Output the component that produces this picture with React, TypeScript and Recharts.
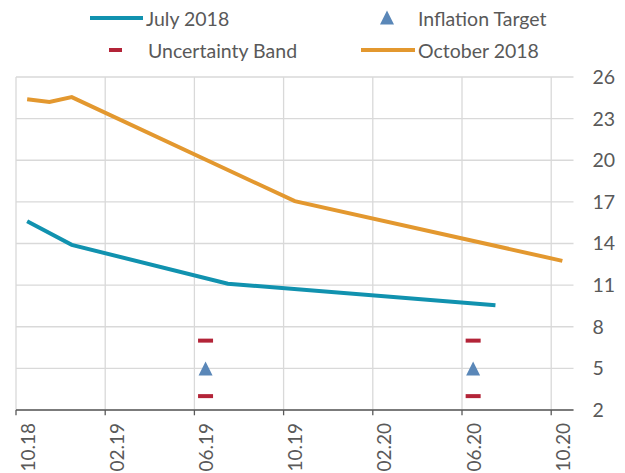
import React from 'react';
import { ComposedChart, Line, Scatter, XAxis, YAxis, CartesianGrid, ReferenceLine } from 'recharts';

const monthLabels = [
  '10.18', '11.18', '12.18', '01.19', '02.19', '03.19', '04.19', '05.19', '06.19',
  '07.19', '08.19', '09.19', '10.19', '11.19', '12.19', '01.20', '02.20', '03.20',
  '04.20', '05.20', '06.20', '07.20', '08.20', '09.20', '10.20',
];

// only the visible vertices are given, the rest is bridged with connectNulls
const july2018 = [
  15.6, null, 13.9, null, null, null, null, null, null, 11.1, null, null, null,
  null, null, null, null, null, null, null, null, 9.55, null, null, null,
];
const october2018 = [
  24.4, 24.2, 24.55, null, null, null, null, null, null, null, null, null, 17.05,
  null, null, null, null, null, null, null, null, null, null, null, 12.75,
];

const targetMonths = ['06.19', '06.20'];
const inflationTarget = [5, 5];
const bandUpper = [7, 7];
const bandLower = [3, 3];

const yTicks = [2, 5, 8, 11, 14, 17, 20, 23, 26];
const labelTicks = [0, 4, 8, 12, 16, 20, 24];
const gridBoundaries = [-0.5, 3.5, 7.5, 11.5, 15.5, 19.5, 23.5];

const chartData = monthLabels.map((m, i) => ({ i, month: m, july: july2018[i], october: october2018[i] }));
const targetData = targetMonths.map((m, k) => ({ i: monthLabels.indexOf(m), y: inflationTarget[k] }));
const upperData = targetMonths.map((m, k) => ({ i: monthLabels.indexOf(m), y: bandUpper[k] }));
const lowerData = targetMonths.map((m, k) => ({ i: monthLabels.indexOf(m), y: bandLower[k] }));

const BLUE = '#1192af';
const ORANGE = '#e3982f';
const RED = '#b32438';
const STEEL = '#5a87b8';
const TEXT = '#595959';
const GRID = '#d9d9d9';
const FONT = 'Lato, "Open Sans", sans-serif';
const FS = 19.5;

const Triangle = (props: any) => {
  const { cx, cy } = props;
  return <polygon points={`${cx},${cy - 7} ${cx + 7},${cy + 7} ${cx - 7},${cy + 7}`} fill={STEEL} />;
};

const Dash = (props: any) => {
  const { cx, cy } = props;
  return <rect x={cx - 7.5} y={cy - 2} width={15} height={4} fill={RED} />;
};

const MonthTick = (props: any) => {
  const { x, y, payload } = props;
  return (
    <text
      x={x}
      y={y}
      transform={`rotate(-90 ${x} ${y})`}
      textAnchor="end"
      dominantBaseline="central"
      fill={TEXT}
      fontSize={FS - 0.5}
      fontFamily={FONT}
    >
      {monthLabels[payload.value]}
    </text>
  );
};

const LegendOverlay = () => (
  <svg width={625} height={70} style={{ position: 'absolute', left: 0, top: 0, pointerEvents: 'none' }}>
    <g fontFamily={FONT} fontSize={FS} fill={TEXT}>
      <line x1={90} x2={143} y1={18} y2={18} stroke={BLUE} strokeWidth={4} />
      <text x={146} y={18} dominantBaseline="central">July 2018</text>
      <polygon points="387,11 394,25 380,25" fill={STEEL} transform="translate(0,-0.5)" />
      <text x={418} y={18} dominantBaseline="central">Inflation Target</text>
      <rect x={109} y={48} width={13} height={4} fill={RED} />
      <text x={148} y={50} dominantBaseline="central">Uncertainty Band</text>
      <line x1={361} x2={415} y1={50} y2={50} stroke={ORANGE} strokeWidth={4} />
      <text x={418} y={50} dominantBaseline="central">October 2018</text>
    </g>
  </svg>
);

export default function App() {
  return (
    <div style={{ position: 'absolute', left: 0, top: 0, width: 625, height: 473, background: '#fff', fontFamily: FONT }}>
      <ComposedChart width={625} height={473} data={chartData} margin={{ top: 77, right: 0, bottom: 0, left: 16 }}>
        <CartesianGrid
          stroke={GRID}
          strokeWidth={1.3}
          verticalCoordinatesGenerator={({ xAxis, offset }: any) =>
            gridBoundaries.map((v) =>
              xAxis && typeof xAxis.scale === 'function'
                ? xAxis.scale(v)
                : offset.left + ((v + 0.5) / 25) * offset.width
            )
          }
        />
        <XAxis
          dataKey="i"
          type="number"
          domain={[-0.5, 24.5]}
          ticks={labelTicks}
          interval={0}
          height={63}
          axisLine={{ stroke: TEXT, strokeWidth: 1.3 }}
          tickLine={false}
          tickSize={0}
          tickMargin={13}
          tick={<MonthTick />}
        />
        <YAxis
          orientation="right"
          width={51.5}
          domain={[2, 26]}
          ticks={yTicks}
          interval={0}
          axisLine={false}
          tickLine={false}
          tickSize={0}
          tickMargin={19}
          tick={{ fill: TEXT, fontSize: FS, fontFamily: FONT }}
        />
        {gridBoundaries.map((v) => (
          <ReferenceLine
            key={v}
            segment={[{ x: v, y: 2 }, { x: v, y: 1.62 }]}
            stroke={TEXT}
            strokeWidth={1.3}
            ifOverflow="visible"
          />
        ))}
        <Line type="linear" dataKey="july" stroke={BLUE} strokeWidth={4} dot={false} connectNulls isAnimationActive={false} />
        <Line type="linear" dataKey="october" stroke={ORANGE} strokeWidth={4} dot={false} connectNulls isAnimationActive={false} />
        <Scatter data={upperData} dataKey="y" shape={<Dash />} isAnimationActive={false} />
        <Scatter data={lowerData} dataKey="y" shape={<Dash />} isAnimationActive={false} />
        <Scatter data={targetData} dataKey="y" shape={<Triangle />} isAnimationActive={false} />
      </ComposedChart>
      <LegendOverlay />
    </div>
  );
}
